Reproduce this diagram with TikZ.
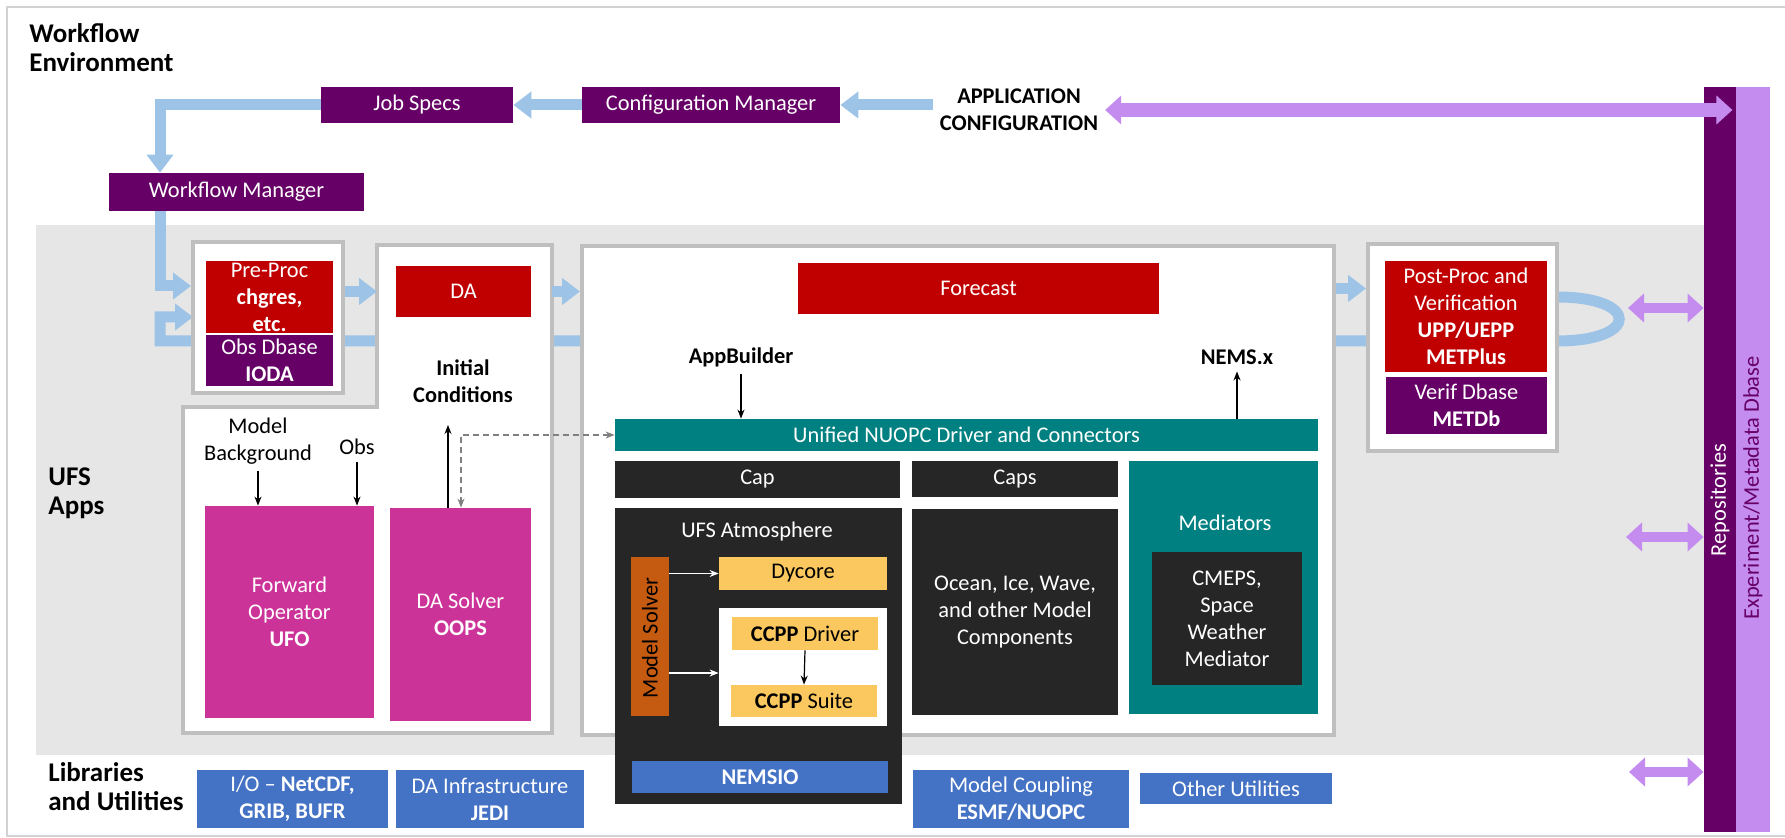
\documentclass[tikz,border=0pt]{standalone}
\usepackage{fontspec}
\setmainfont{Carlito}
\usetikzlibrary{arrows.meta}

\definecolor{wfpurple}{RGB}{102,0,102}
\definecolor{lilac}{RGB}{197,140,240}
\definecolor{flowblue}{RGB}{157,195,230}
\definecolor{ufsred}{RGB}{192,0,0}
\definecolor{jedipink}{RGB}{204,51,153}
\definecolor{nuopcteal}{RGB}{0,128,128}
\definecolor{capgray}{RGB}{38,38,38}
\definecolor{solverorange}{RGB}{197,90,17}
\definecolor{ccppgold}{RGB}{250,200,95}
\definecolor{libblue}{RGB}{68,114,196}
\definecolor{bandgray}{RGB}{231,230,230}
\definecolor{framegray}{RGB}{191,191,191}

\newcommand{\bodyfont}{\fontsize{11.2}{13.5}\selectfont}
\newcommand{\headfont}{\fontsize{13.5}{14.5}\selectfont\bfseries}

\begin{document}
\begin{tikzpicture}[x=0.5pt, y=-0.5pt, line join=miter,
  blk/.style={inner sep=0pt, align=center, text=white, font=\bodyfont},
  purplebox/.style={blk, fill=wfpurple},
  redbox/.style={blk, fill=ufsred},
  pinkbox/.style={blk, fill=jedipink},
  tealbox/.style={blk, fill=nuopcteal},
  darkbox/.style={blk, fill=capgray},
  goldbox/.style={blk, fill=ccppgold, text=black},
  libbox/.style={blk, fill=libblue},
  holder/.style={blk, fill=white, draw=framegray, line width=2pt},
  headline/.style={anchor=west, align=left, inner sep=0pt, font=\headfont},
  txt/.style={align=center, font=\bodyfont},
  flow/.style={draw=flowblue, line width=5.5pt, -{Triangle[length=9pt,width=13pt]}},
  dblink/.style={draw=lilac, line width=5pt, {Triangle[length=8pt,width=14pt]}-{Triangle[length=8pt,width=14pt]}},
  pointer/.style={line width=0.6pt, -{Stealth[length=4.5pt,width=3.5pt]}},
  dualpointer/.style={line width=0.6pt, {Stealth[length=4.5pt,width=3.5pt]}-{Stealth[length=4.5pt,width=3.5pt]}}
]
  % Page and frame
  \useasboundingbox (0,0) rectangle (1785,838);
  \draw[gray!35, line width=0.6pt] (1785,7) -- (7,7) -- (7,836) -- (1785,836);

  % UFS Apps band
  \node[inner sep=0pt, fill=bandgray, minimum width=834pt, minimum height=265pt] (band) at (870,490) {};

  % Repository bars
  \node[inner sep=0pt, fill=wfpurple, minimum width=16pt, minimum height=372.5pt] (repo) at (1720,459.5) {};
  \node[inner sep=0pt, fill=lilac, minimum width=17pt, minimum height=372.5pt] (expdb) at (1753,459.5) {};
  \node[rotate=90, text=white, font=\bodyfont] (repotxt) at (1720,500) {Repositories};
  \node[rotate=90, text=wfpurple, font=\bodyfont] (exptxt) at (1753,488) {Experiment/Metadata Dbase};

  % Section titles
  \node[headline] (wfenv) at (29,48) {Workflow\\Environment};
  \node[headline] (ufsapps) at (48,493) {UFS\\Apps};
  \node[headline] (libs) at (48,787) {Libraries\\and Utilities};

  % Workflow environment
  \node[purplebox, minimum width=96pt, minimum height=18pt] (jobspecs) at (417,105) {Job Specs};
  \node[purplebox, minimum width=129pt, minimum height=18pt] (confmgr) at (711,105) {Configuration Manager};
  \node[purplebox, minimum width=127.5pt, minimum height=19pt] (wfmgr) at (236.5,192) {Workflow Manager};
  \node[txt, font=\bodyfont\bfseries] (appconf) at (1019,110) {APPLICATION\\CONFIGURATION};

  \draw[flow] (confmgr.west) -- (jobspecs.east);
  \draw[flow] (appconf.west |- confmgr.east) -- (confmgr.east);
  \draw[dblink, line width=7pt] (appconf.east) -- ([xshift=-2pt]appconf.east -| repo.east);
  \coordinate (wfdrop) at (160,105);
  \draw[flow] (jobspecs.west) -- (wfdrop) -- (wfdrop |- wfmgr.north);

  % Cycling loop (behind the boxes)
  \coordinate (feedA) at (160,286);
  \coordinate (cycleIn) at (160,317);
  \coordinate (cycleL) at (160,341);
  \coordinate (cycleTop) at (1557,297);
  \coordinate (cycleBot) at (1557,341);
  \coordinate (preIn) at (193,317);
  \draw[flow] (cycleTop) .. controls +(83,0) and +(83,0) .. (cycleBot) -- (cycleL) -- (cycleIn) -- (preIn);

  % Pre-processing
  \node[holder, minimum width=75pt, minimum height=75.5pt] (preout) at (268,317.5) {};
  \node[redbox, minimum width=63.5pt, minimum height=36pt] (preproc) at (269.5,297) {Pre-Proc\\\textbf{chgres,}\\\textbf{etc.}};
  \node[purplebox, minimum width=63.5pt, minimum height=25.5pt] (obsdb) at (269.5,360.5) {Obs Dbase\\\textbf{IODA}};
  \draw[flow] (wfdrop |- wfmgr.south) -- (feedA) -- (feedA -| preout.west);

  % Data assimilation
  \coordinate (daNW) at (377,245);
  \coordinate (daNE) at (552,245);
  \coordinate (daSE) at (552,733);
  \coordinate (daSW) at (183,733);
  \draw[fill=white, draw=framegray, line width=2pt] (daNW) -- (daNE) -- (daSE) -- (daSW) -- (183,407) -- (377,407) -- cycle;
  \node[redbox, minimum width=67.5pt, minimum height=25.5pt] (dared) at (463.5,291.5) {DA};
  \node[txt, font=\bodyfont\bfseries] (initc) at (463,381) {Initial\\Conditions};
  \node[txt] (mbg) at (258,441) {Model\\Background};
  \node[txt] (obs) at (357,447) {Obs};
  \node[pinkbox, minimum width=84.5pt, minimum height=106pt] (fwdop) at (289.5,612) {Forward\\Operator\\\textbf{UFO}};
  \node[pinkbox, minimum width=70.5pt, minimum height=106.5pt] (dasolver) at (460.5,614.5) {DA Solver\\\textbf{OOPS}};
  \draw[pointer] (mbg.south) -- (mbg.south |- fwdop.north);
  \draw[pointer] (obs.south) -- (obs.south |- fwdop.north);
  \coordinate (icTip) at (448,425);
  \draw[pointer] (dasolver.north -| icTip) -- (icTip);

  \draw[flow] (preout.east |- dared) -- (daNW |- dared);

  % Forecast
  \node[holder, minimum width=376pt, minimum height=244.5pt] (fcout) at (958,490.5) {};
  \node[redbox, minimum width=180.5pt, minimum height=25.5pt] (forecast) at (978.5,288.5) {Forecast};
  \node[txt, font=\bodyfont\bfseries] (appbld) at (741,357) {AppBuilder};
  \node[txt, font=\bodyfont\bfseries] (nemsx) at (1237,357) {NEMS.x};
  \node[tealbox, minimum width=351.5pt, minimum height=16pt] (nuopc) at (966.5,435) {Unified NUOPC Driver and Connectors};
  \node[darkbox, minimum width=142.5pt, minimum height=18.5pt] (cap) at (757.5,479.5) {Cap};
  \node[darkbox, minimum width=103pt, minimum height=18pt] (caps) at (1015,479) {Caps};
  \node[darkbox, minimum width=103pt, minimum height=103pt] (ocean) at (1015,612) {Ocean, Ice, Wave,\\and other Model\\Components};
  \node[tealbox, minimum width=94.5pt, minimum height=126.5pt] (mediators) at (1223.5,587.5) {};
  \node[txt, text=white] (medtitle) at (1225,523) {Mediators};
  \node[darkbox, minimum width=75pt, minimum height=66.5pt] (cmeps) at (1227,618.5) {CMEPS,\\Space\\Weather\\Mediator};
  \draw[pointer] (appbld.south) -- (appbld.south |- nuopc.north);
  \draw[pointer] (nemsx.south |- nuopc.north) -- (nemsx.south);
  \draw[flow] (daNE |- dared) -- (fcout.west |- dared);

  % UFS Atmosphere
  \node[darkbox, minimum width=143.5pt, minimum height=148pt] (ufsatm) at (758.5,656) {};
  \node[txt, text=white] (atmtitle) at (757,532) {UFS Atmosphere};
  \node[blk, fill=solverorange, minimum width=19pt, minimum height=79.5pt] (solver) at (650,636.5) {};
  \node[txt, rotate=90] (solvertxt) at (650,638) {Model Solver};
  \node[goldbox, minimum width=84pt, minimum height=16.5pt] (dycore) at (803,573.5) {Dycore};
  \node[blk, fill=white, minimum width=84pt, minimum height=59pt] (ccpp) at (803,667) {};
  \node[goldbox, minimum width=73pt, minimum height=16.5pt] (ccppdrv) at (805,633.5) {\textbf{CCPP} Driver};
  \node[goldbox, minimum width=73pt, minimum height=16pt] (ccppsuite) at (804,701) {\textbf{CCPP} Suite};
  \node[libbox, minimum width=128pt, minimum height=16pt] (nemsio) at (760,777) {\textbf{NEMSIO}};
  \draw[pointer] (ccppdrv.south) -- (ccppsuite.north);
  \draw[pointer, white] (solver.east |- dycore) -- (dycore.west);
  \draw[pointer, white] ([yshift=-3pt]solver.east |- ccpp.center) -- ([yshift=-3pt]ccpp.west);

  % DA solver link to the driver
  \coordinate (dashTurn) at (461,435);
  \draw[dualpointer, gray, dash pattern=on 3pt off 2pt] (nuopc.west |- dashTurn) -- (dashTurn) -- (dashTurn |- dasolver.north);

  % Post-processing
  \node[holder, minimum width=94.5pt, minimum height=103.5pt] (postout) at (1462.5,347.5) {};
  \node[redbox, minimum width=81pt, minimum height=55.5pt] (postproc) at (1466,316.5) {Post-Proc and\\Verification\\\textbf{UPP/UEPP}\\\textbf{METPlus}};
  \node[purplebox, minimum width=80.5pt, minimum height=28.5pt] (verifdb) at (1466.5,405.5) {Verif Dbase\\\textbf{METDb}};
  \draw[flow] (fcout.east |- forecast) -- (postout.west |- forecast);

  % Libraries and utilities
  \node[libbox, minimum width=95.5pt, minimum height=29pt] (iolib) at (292.5,799) {I/O -- \textbf{NetCDF,}\\\textbf{GRIB, BUFR}};
  \node[libbox, minimum width=94pt, minimum height=29pt] (jedi) at (490,799) {DA Infrastructure\\\textbf{JEDI}};
  \node[libbox, minimum width=108pt, minimum height=29pt] (esmf) at (1021,799) {Model Coupling\\\textbf{ESMF/NUOPC}};
  \node[libbox, minimum width=96pt, minimum height=15.5pt] (otherutil) at (1236,788.5) {Other Utilities};

  % Links to the repositories
  \coordinate (linkPost) at (1628,308);
  \coordinate (linkApps) at (1626,537);
  \coordinate (linkLibs) at (1629,772);
  \foreach \c in {linkPost,linkApps,linkLibs}
    \draw[dblink] (\c) -- (\c -| repo.west);
\end{tikzpicture}
\end{document}
